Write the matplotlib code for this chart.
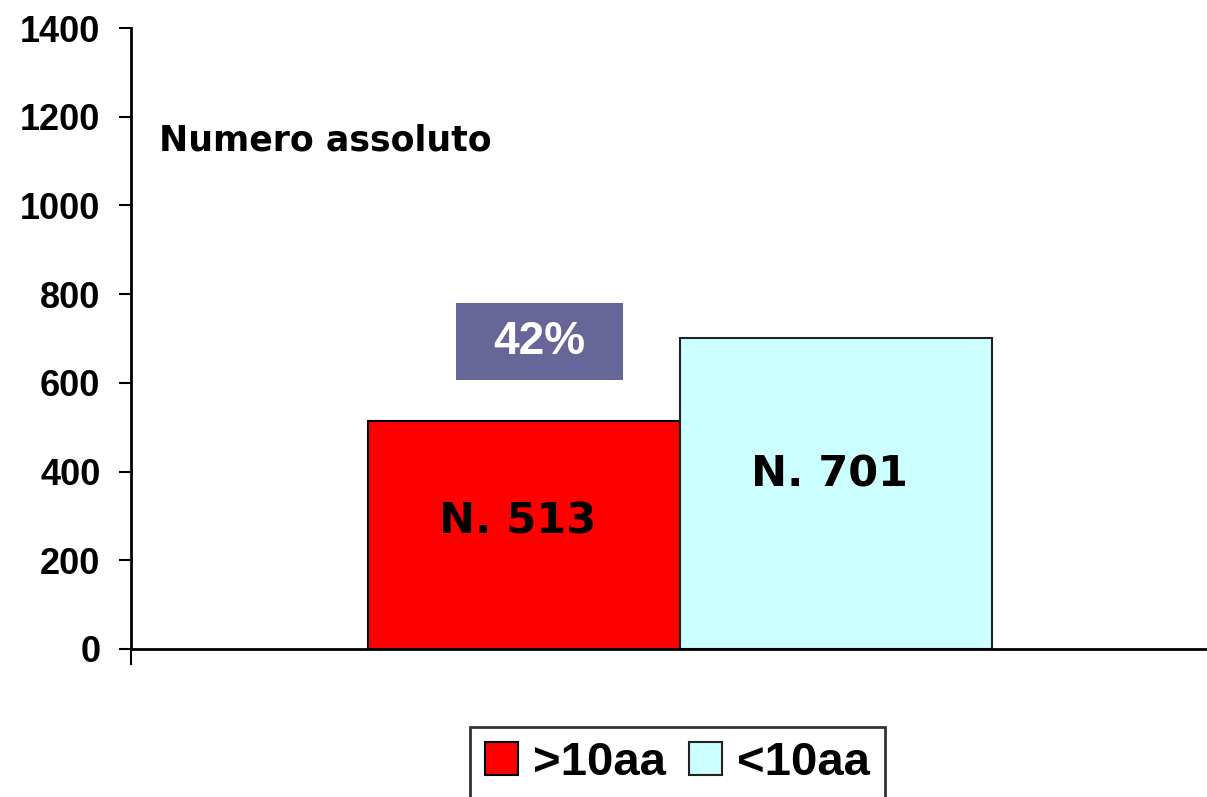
import matplotlib.pyplot as plt
from matplotlib.patches import Rectangle

# Data
groups = [">10aa", "<10aa"]
counts = [513, 701]
colors = ["#FF0000", "#CCFFFF"]
edges = ["#000000", "#222222"]

share = round(100 * counts[0] / sum(counts))

W, H = 1207, 797
fig = plt.figure(figsize=(W / 100, H / 100), dpi=100)
ax = fig.add_axes([131 / W, 1 - 649 / H, (1207 - 131) / W, (649 - 28) / H])

positions = [0, 1]
bars = ax.bar(positions, counts, width=1.0, color=colors, edgecolor=edges,
              linewidth=1.5, label=groups, zorder=2)

ax.set_ylim(0, 1400)
ax.set_xlim(-1.258, 2.19)
ax.set_yticks(range(0, 1401, 200))
ax.set_xticks([-1.258])
ax.set_xticklabels([])

for s in ["top", "right"]:
    ax.spines[s].set_visible(False)
for s in ["left", "bottom"]:
    ax.spines[s].set_linewidth(2)

ax.tick_params(axis="y", direction="out", length=9, width=1.5, pad=13)
ax.tick_params(axis="x", direction="out", length=11.5, width=1.5)
for lbl in ax.get_yticklabels():
    lbl.set_fontfamily("Liberation Sans")
    lbl.set_fontweight("bold")
    lbl.set_fontsize(26)

# label inside each bar
for x, v in zip(positions, counts):
    ax.text(x - 0.02, v * 0.56, f"N. {v}", ha="center", va="center",
            fontsize=31, fontweight="bold", family="DejaVu Sans", zorder=3)

ax.text(-1.168, 1147, "Numero assoluto", ha="left", va="center",
        fontsize=25, fontweight="bold", family="DejaVu Sans")

# percentage box above the first bar
ax.add_patch(Rectangle((-0.216, 606), 0.535, 174, facecolor="#666699",
                       edgecolor="none", zorder=3))
ax.text(0.05, 693, f"{share}%", ha="center", va="center", color="white",
        fontsize=33, fontweight="bold", family="Liberation Sans", zorder=4)

leg = fig.legend(handles=bars.patches, labels=groups, loc="upper center",
                 bbox_to_anchor=(677.5 / W, 1 - 727 / H), ncol=2,
                 prop={"family": "Liberation Sans", "weight": "bold", "size": 34},
                 handlelength=0.7, handleheight=0.7, handletextpad=0.32,
                 columnspacing=0.5, borderpad=0.3, borderaxespad=0,
                 fancybox=False, frameon=True, edgecolor="black")
leg.get_frame().set_linewidth(2)

fig.savefig("out.png", dpi=100)
